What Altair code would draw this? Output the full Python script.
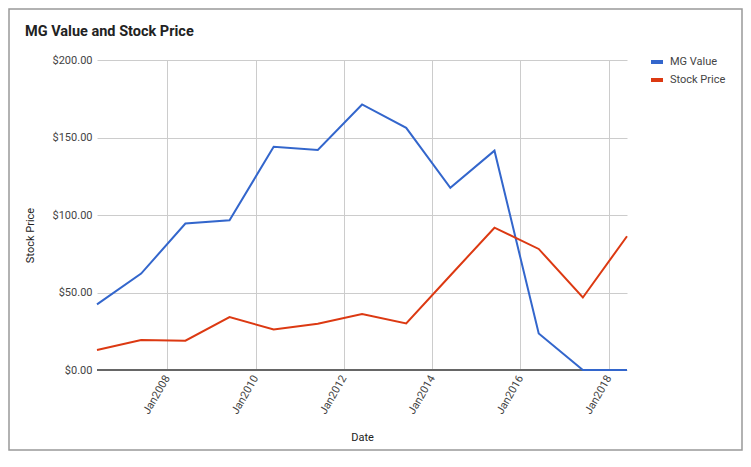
import altair as alt
import pandas as pd

# ---- data ----
dates = ["2006-05-31", "2007-05-31", "2008-05-31", "2009-05-31", "2010-05-31",
         "2011-05-31", "2012-05-31", "2013-05-31", "2014-05-31", "2015-05-31",
         "2016-05-31", "2017-05-31", "2018-05-31"]
mg_value = [42.3, 62.2, 94.5, 96.6, 144.0, 142.0, 171.3, 156.2, 117.5, 141.5, 23.6, 0.0, 0.0]
stock_price = [12.9, 19.3, 18.9, 34.1, 26.2, 29.8, 36.1, 30.0, 61.0, 91.8, 78.1, 46.8, 86.3]
series_names = ["MG Value", "Stock Price"]
series_colors = ["#3366cc", "#dc3912"]
tick_years = [2008, 2010, 2012, 2014, 2016, 2018]
y_ticks = [0, 50, 100, 150, 200]
chart_title = "MG Value and Stock Price"

rows = []
for d, v in zip(dates, mg_value):
    rows.append({"Date": d, "Series": series_names[0], "Value": v})
for d, v in zip(dates, stock_price):
    rows.append({"Date": d, "Series": series_names[1], "Value": v})
df = pd.DataFrame(rows)

FONT = "Roboto"
W, H = 530, 310

x_enc = alt.X(
    "Date:T",
    title="Date",
    scale=alt.Scale(type="utc", domain=[
        alt.DateTime(year=2006, month=5, date=31, utc=True),
        alt.DateTime(year=2018, month=5, date=31, utc=True)]),
    axis=alt.Axis(
        values=[alt.DateTime(year=y, month=1, date=1, utc=True) for y in tick_years],
        format="Jan%Y",
        labelAngle=-60,
        labelAlign="right",
        labelBaseline="middle",
        labelPadding=6,
        labelFontSize=11,
        labelColor="#444444",
        labelFont=FONT,
        ticks=False,
        domain=False,
        grid=True,
        gridColor="#cccccc",
        titleFont=FONT,
        titleFontSize=11,
        titleFontWeight="normal",
        titleColor="#222222",
        titleY=61,
    ),
)

y_enc = alt.Y(
    "Value:Q",
    title="Stock Price",
    scale=alt.Scale(domain=[0, 200], nice=False, zero=True),
    axis=alt.Axis(
        values=y_ticks,
        format="$,.2f",
        labelFontSize=11,
        labelColor="#444444",
        labelFont=FONT,
        labelPadding=5,
        ticks=False,
        domain=False,
        grid=True,
        gridColor="#cccccc",
        titleFont=FONT,
        titleFontSize=11,
        titleFontWeight="normal",
        titleColor="#222222",
        titleX=-67,
        titleY=175,
        titleAlign="center",
        titleBaseline="middle",
    ),
)

base = alt.Chart(df)

baseline = base.mark_rule(color="#666666", strokeWidth=1).encode(y=alt.datum(0))

lines = base.mark_line(strokeWidth=2).encode(
    x=x_enc,
    y=y_enc,
    color=alt.Color(
        "Series:N",
        scale=alt.Scale(domain=series_names, range=series_colors),
        sort=series_names,
        legend=alt.Legend(
            title=None,
            orient="none",
            legendX=552,
            legendY=-6,
            symbolType="stroke",
            symbolSize=144,
            symbolStrokeWidth=4,
            labelFont=FONT,
            labelFontSize=11,
            labelColor="#444444",
            labelOffset=5,
            rowPadding=2,
            padding=0,
        ),
    ),
    order=alt.Order("Date:T"),
)

title_text = alt.Chart(pd.DataFrame({"t": [chart_title]})).mark_text(
    font=FONT, fontSize=14.5, fontWeight="bold", color="#222222",
    align="left", baseline="alphabetic",
).encode(text="t:N", x=alt.value(-72), y=alt.value(-24))

frame = alt.Chart(pd.DataFrame({"t": [0]})).mark_rect(
    fill=None, stroke="#999999", strokeWidth=1.5
).encode(x=alt.value(-88), x2=alt.value(645), y=alt.value(-51), y2=alt.value(390))

chart = alt.layer(baseline, lines, title_text, frame).properties(
    width=W,
    height=H,
    autosize=alt.AutoSizeParams(type="none"),
    padding={"left": 89, "top": 52, "right": 116, "bottom": 85},
    background="white",
).configure_view(stroke=None)

chart.save("out.html", embed_options={"renderer": "svg", "actions": False})
